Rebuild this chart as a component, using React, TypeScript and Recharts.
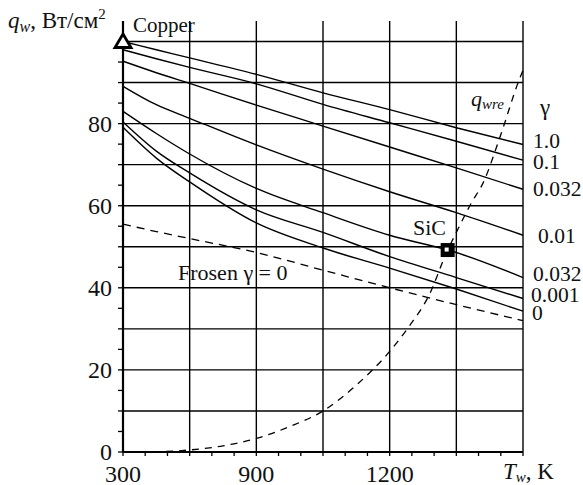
import React from "react";
import { ComposedChart, Line, Scatter, XAxis, YAxis, ReferenceLine } from "recharts";

// x is measured in grid steps of the original temperature axis (0 = first gridline)
const xs = [0, 0.5, 1, 2, 3, 4, 5, 6];
const gamma10 = [100, 98.0, 96.0, 92.0, 87.5, 83.4, 79.0, 74.9];
const gamma01 = [98.0, 95.8, 93.7, 89.7, 84.7, 80.2, 75.7, 71.1];
const gamma0032a = [95.2, 92.4, 89.8, 84.5, 79.4, 74.3, 69.2, 64.0];
const gamma001 = [89.1, 84.6, 81.3, 74.8, 68.9, 63.4, 58.3, 52.8];
const gamma0032b = [83.0, 77.6, 72.6, 64.2, 58.3, 52.8, 48.6, 42.5];
const gamma0001 = [80.4, 73.3, 68.0, 59.0, 53.5, 47.6, 42.5, 37.4];
const gamma0 = [79.1, 71.6, 65.8, 55.8, 49.7, 44.8, 39.7, 34.3];
const frozen = [55.5, 53.7, 52.0, 48.6, 44.3, 40.0, 35.9, 32.0];

const qwreX = [0.45, 1, 1.5, 2, 2.5, 3, 3.5, 4, 4.3, 4.6, 4.85, 5.0, 5.23, 5.4, 5.65, 5.95, 6.0];
const qwreY = [0, 0.5, 1.5, 3.3, 6.2, 10, 16.3, 24.5, 30.8, 38.5, 48.5, 53.5, 60.8, 65.5, 76.5, 91, 93];

const copperPoint = [{ x: 0, q: 100 }];
const sicPoint = [{ x: 4.87, q: 49.2 }];

const xTicks = [0, 0.333, 0.667, 1, 1.333, 1.667, 2, 2.333, 2.667, 3, 3.333, 3.667, 4, 4.333, 4.667, 5, 5.333, 5.667, 6];
const xTickLabels: Record<number, string> = { 0: "300", 2: "900", 4: "1200" };
const yTicks = [0, 5, 10, 15, 20, 25, 30, 35, 40, 45, 50, 55, 60, 65, 70, 75, 80, 85, 90, 95, 100];
const yTickLabels = [0, 20, 40, 60, 80];
const xGrid = [1, 2, 3, 4, 5, 6];
const yGrid = [10, 20, 30, 40, 50, 60, 70, 80, 90, 100];

const toPts = (xv: number[], yv: number[]) => xv.map((x, i) => ({ x, q: yv[i] }));

const solidSeries = [gamma10, gamma01, gamma0032a, gamma001, gamma0032b, gamma0001, gamma0];

const FONT = "'Liberation Serif', 'Times New Roman', serif";
const INK = "#111";
const serif = { fontFamily: FONT };

const Triangle = (props: any) => {
  const { cx, cy } = props;
  return (
    <path
      d={`M${cx},${cy - 7.5} L${cx + 8},${cy + 6} L${cx - 8},${cy + 6} Z`}
      fill="#fff"
      stroke="#000"
      strokeWidth={2.8}
      strokeLinejoin="miter"
    />
  );
};

const Square = (props: any) => {
  const { cx, cy } = props;
  return (
    <g>
      <rect x={cx - 7} y={cy - 7} width={14} height={14} fill="#000" />
      <rect x={cx - 3} y={cy - 2.5} width={4} height={4} fill="#fff" />
    </g>
  );
};

const XTick = (props: any) => {
  const { x, y, payload } = props;
  const r = Math.round(payload.value);
  if (Math.abs(payload.value - r) > 0.01) return null;
  const label = xTickLabels[r];
  if (label === undefined) return null;
  return (
    <text x={x} y={y + 24} textAnchor="middle" style={serif} fontSize={24} fill={INK}>
      {label}
    </text>
  );
};

const YTick = (props: any) => {
  const { x, y, payload } = props;
  if (!yTickLabels.includes(payload.value)) return null;
  return (
    <text x={x} y={y + 8} textAnchor="end" style={serif} fontSize={24} fill={INK}>
      {payload.value}
    </text>
  );
};

const gammaLabels = [
  { text: "1.0", x: 533, y: 148 },
  { text: "0.1", x: 533, y: 168.5 },
  { text: "0.032", x: 533, y: 195.5 },
  { text: "0.01", x: 538, y: 242.5 },
  { text: "0.032", x: 533, y: 281 },
  { text: "0.001", x: 531, y: 301.5 },
  { text: "0", x: 532, y: 320 },
];

export default function App() {
  return (
    <div style={{ position: "absolute", left: 0, top: 0, width: 583, height: 485, background: "#fff" }}>
      <ComposedChart width={583} height={485} margin={{ top: 21, right: 60, bottom: 0, left: 0 }}>
        <XAxis
          type="number"
          dataKey="x"
          domain={[0, 6]}
          ticks={xTicks}
          interval={0}
          height={33}
          axisLine={{ stroke: "#000", strokeWidth: 2.2 }}
          tickLine={{ stroke: "#000", strokeWidth: 1.3 }}
          tickSize={4}
          tick={<XTick />}
        />
        <YAxis
          type="number"
          dataKey="q"
          domain={[0, 105]}
          ticks={yTicks}
          interval={0}
          width={123}
          axisLine={{ stroke: "#000", strokeWidth: 2.2 }}
          tickLine={{ stroke: "#000", strokeWidth: 1.3 }}
          tickSize={5}
          tickMargin={6}
          tick={<YTick />}
        />
        {xGrid.map((v) => (
          <ReferenceLine key={"gx" + v} x={v} stroke="#000" strokeWidth={1.4} />
        ))}
        {yGrid.map((v) => (
          <ReferenceLine key={"gy" + v} y={v} stroke="#000" strokeWidth={1.4} />
        ))}
        {solidSeries.map((s, i) => (
          <Line
            key={"s" + i}
            data={toPts(xs, s)}
            dataKey="q"
            type="monotone"
            stroke="#000"
            strokeWidth={1.4}
            dot={false}
            activeDot={false}
            isAnimationActive={false}
          />
        ))}
        <Line
          data={toPts(xs, frozen)}
          dataKey="q"
          type="monotone"
          stroke="#000"
          strokeWidth={1.3}
          strokeDasharray="8 6"
          dot={false}
          activeDot={false}
          isAnimationActive={false}
        />
        <Line
          data={toPts(qwreX, qwreY)}
          dataKey="q"
          type="monotone"
          stroke="#000"
          strokeWidth={1.3}
          strokeDasharray="7 6"
          dot={false}
          activeDot={false}
          isAnimationActive={false}
        />
        <Scatter data={copperPoint} dataKey="q" shape={<Triangle />} isAnimationActive={false} />
        <Scatter data={sicPoint} dataKey="q" shape={<Square />} isAnimationActive={false} />
      </ComposedChart>
      <svg
        width={583}
        height={485}
        style={{ position: "absolute", left: 0, top: 0, pointerEvents: "none", fontFamily: FONT }}
        fill={INK}
      >
        <text x={8} y={28} fontSize={23}>
          <tspan fontStyle="italic">q</tspan>
          <tspan fontStyle="italic" fontSize={16} dy={4}>w</tspan>
          <tspan dy={-4}>, Вт/см</tspan>
          <tspan fontSize={15} dy={-9}>2</tspan>
        </text>
        <text x={133} y={31.5} fontSize={21}>Copper</text>
        <text x={471} y={105.5} fontSize={22}>
          <tspan fontStyle="italic">q</tspan>
          <tspan fontStyle="italic" fontSize={15} dy={3}>wre</tspan>
        </text>
        <text x={545} y={115} fontSize={23} textAnchor="middle">γ</text>
        {gammaLabels.map((g, i) => (
          <text key={i} x={g.x} y={g.y} fontSize={21.5}>{g.text}</text>
        ))}
        <text x={413} y={235} fontSize={22}>SiC</text>
        <text x={178} y={280} fontSize={22}>Frosen γ = 0</text>
        <text x={503} y={479} fontSize={23}>
          <tspan fontStyle="italic">T</tspan>
          <tspan fontStyle="italic" fontSize={15} dy={3}>w</tspan>
          <tspan dy={-3}>, K</tspan>
        </text>
      </svg>
    </div>
  );
}
